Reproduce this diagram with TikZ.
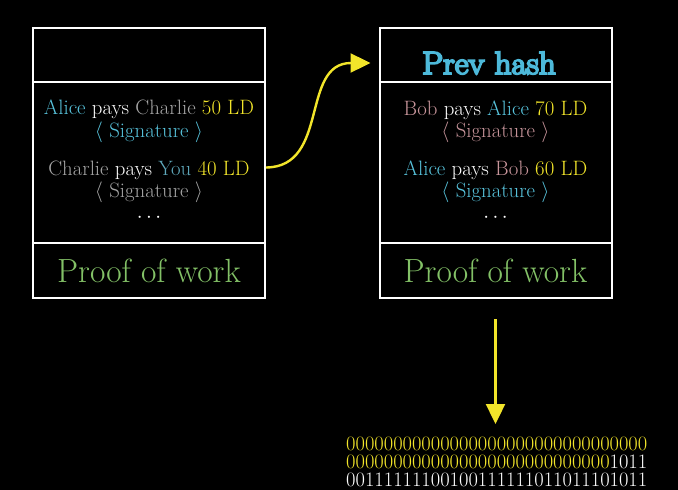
\documentclass[tikz,border=0pt]{standalone}
\usepackage{fix-cm}
\usepackage{fontspec}
\newfontfamily\hashfont[FakeBold=6]{Latin Modern Roman}
\usetikzlibrary{arrows.meta,calc}
\definecolor{cblue}{HTML}{58C4DD}
\definecolor{cgrey}{HTML}{A6A6A6}
\definecolor{cyou}{HTML}{5FA9BC}
\definecolor{cyel}{HTML}{F2E52A}
\definecolor{cbob}{HTML}{C8959B}
\definecolor{cgreen}{HTML}{83C167}
\definecolor{chash}{HTML}{4DB9DA}
\tikzset{
  part/.style={draw=white, line width=2pt, minimum width=232pt, inner sep=0pt},
  txt/.style={text=white, font=\fontsize{20.8}{24}\selectfont, anchor=base, inner sep=0pt},
  pow/.style={text=cgreen, font=\fontsize{33.5}{36}\selectfont, anchor=base, inner sep=0pt},
  yarrow/.style={draw=cyel, line width=2.4pt, -{Triangle[length=20pt,width=19pt]}},
}
\begin{document}
\begin{tikzpicture}[x=1pt,y=-1pt]
\fill[black] (0,0) rectangle (678,490);
\useasboundingbox (0,0) rectangle (678,490);
% block 1
\node[part, minimum height=54pt] (b1h) at (149,55) {};
\node[part, minimum height=161pt] (b1t) at (149,162.5) {};
\node[part, minimum height=55pt] (b1p) at (149,270.5) {};
% block 2
\node[part, minimum height=54pt] (b2h) at (495.5,55) {};
\node[part, minimum height=161pt] (b2t) at (495.5,162.5) {};
\node[part, minimum height=55pt] (b2p) at (495.5,270.5) {};
% block 1 texts
\node[txt] (t11) at (149,114) {\textcolor{cblue}{Alice} pays \textcolor{cgrey}{Charlie} \textcolor{cyel}{50 LD}};
\node[txt, text=cblue] (s11) at (149,137) {$\langle$ Signature $\rangle$};
\node[txt] (t12) at (149,175) {\textcolor{cgrey}{Charlie} pays \textcolor{cyou}{You} \textcolor{cyel}{40 LD}};
\node[txt, text=cgrey] (s12) at (149,197) {$\langle$ Signature $\rangle$};
\node[txt] (d1) at (149,222) {$\cdots$};
\node[pow] (p1) at (149,282) {Proof of work};
% block 2 texts
\node[text=chash, inner sep=0pt, anchor=base, xscale=1.04, font=\fontsize{32}{34}\selectfont\hashfont] (ph) at (489,74) {Prev hash};
\node[txt] (t21) at (495.5,115) {\textcolor{cbob}{Bob} pays \textcolor{cblue}{Alice} \textcolor{cyel}{70 LD}};
\node[txt, text=cbob] (s21) at (495.5,137) {$\langle$ Signature $\rangle$};
\node[txt] (t22) at (495.5,175) {\textcolor{cblue}{Alice} pays \textcolor{cbob}{Bob} \textcolor{cyel}{60 LD}};
\node[txt, text=cblue] (s22) at (495.5,197) {$\langle$ Signature $\rangle$};
\node[txt] (d2) at (495.5,222) {$\cdots$};
\node[pow] (p2) at (495.5,282) {Proof of work};
% binary
\node[anchor=north west, inner sep=0pt, align=left, text=white,
      font=\fontsize{20.5}{18}\selectfont] (bin) at (346,437)
{\textcolor{cyel}{00000000000000000000000000000000}\\
 \textcolor{cyel}{0000000000000000000000000000}1011\\
 00111111100100111111011011101011\\
 10011111011111010011010111000001};
% arrows
\coordinate (a0) at ($(b1t.east)+(0,5)$);
\coordinate (a1) at ($(b2h.west)+(-8,8)$);
\draw[yarrow] (a0) .. controls (330,167) and (300,63) .. (a1);
\coordinate (d0) at ($(b2p.south)+(0,20)$);
\coordinate (d1e) at ($(b2p.south)+(0,125)$);
\draw[yarrow] (d0) -- (d1e);
\end{tikzpicture}
\end{document}
